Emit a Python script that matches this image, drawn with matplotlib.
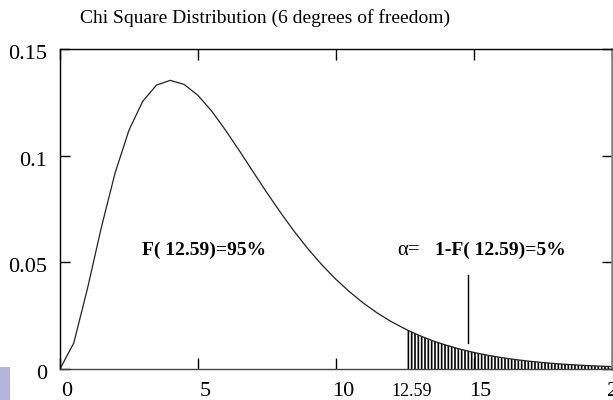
import numpy as np
import matplotlib
matplotlib.use("Agg")
import matplotlib.pyplot as plt
import matplotlib.transforms as mtransforms
from matplotlib.patches import Rectangle

# Data (chi-square density, 6 d.o.f.)
x_vals = [0, 0.5, 1, 1.5, 2, 2.5, 3, 3.5, 4, 4.5, 5, 5.5, 6, 6.5, 7, 7.5, 8, 8.5,
          9, 9.5, 10, 10.5, 11, 11.5, 12, 12.5, 12.59, 13, 13.5, 14, 14.5, 15, 15.5,
          16, 16.5, 17, 17.5, 18, 18.5, 19, 19.5, 20]
y_vals = [0.0, 0.0122, 0.0379, 0.0664, 0.0920, 0.1119, 0.1255, 0.1331, 0.1353,
          0.1334, 0.1283, 0.1209, 0.1120, 0.1024, 0.0925, 0.0827, 0.0733, 0.0644,
          0.0562, 0.0488, 0.0421, 0.0362, 0.0309, 0.0263, 0.0223, 0.0189, 0.0183,
          0.0159, 0.0133, 0.0112, 0.00933, 0.00778, 0.00647, 0.00537, 0.00445,
          0.00368, 0.00303, 0.00250, 0.00206, 0.00169, 0.00139, 0.00114]
critical = 12.59
x_ticks = [0, 5, 10, 15, 20]
x_tick_labels = ["0", "5", "10", "15", "20"]
y_ticks = [0, 0.05, 0.1, 0.15]
y_tick_labels = ["0", "0.05", "0.1", "0.15"]
title = "Chi Square Distribution (6 degrees of freedom)"

plt.rcParams['font.family'] = ['Liberation Serif', 'DejaVu Serif']
plt.rcParams['hatch.linewidth'] = 1.2
plt.rcParams['hatch.color'] = 'black'

fig = plt.figure(figsize=(6.13, 4.0), dpi=100)
ax = fig.add_axes([60/613, 31/400, 551.5/613, 320/400])

xv = np.array(x_vals)
yv = np.array(y_vals)
ax.plot(xv, yv, color='#222222', lw=0.9)

mask = xv >= critical
ax.fill_between(xv[mask], 0, yv[mask], facecolor='none', edgecolor='black',
                hatch='|||||', linewidth=0)

ax.set_xlim(0, 20)
ax.set_ylim(0, 0.15)
ax.set_xticks(x_ticks)
ax.set_xticklabels(x_tick_labels, fontsize=16)
ax.set_yticks(y_ticks)
ax.set_yticklabels(y_tick_labels, fontsize=16)
ax.tick_params(axis='x', direction='in', length=8, width=1, top=True, pad=9)
ax.tick_params(axis='y', direction='in', length=7.5, width=1, right=True, pad=9)
offx = mtransforms.ScaledTranslation(7/100, 0, fig.dpi_scale_trans)
for lbl in ax.get_xticklabels():
    lbl.set_transform(lbl.get_transform() + offx)
offy = mtransforms.ScaledTranslation(0, -3/100, fig.dpi_scale_trans)
for lbl in ax.get_yticklabels():
    lbl.set_transform(lbl.get_transform() + offy)

for side in ['left', 'bottom', 'top']:
    ax.spines[side].set_linewidth(1.0)
    ax.spines[side].set_color('black')
ax.spines['bottom'].set_color('#444444')
ax.spines['right'].set_linewidth(1.8)
ax.spines['right'].set_color('#808080')

trans = mtransforms.blended_transform_factory(ax.transData, ax.transAxes)
ax.text(critical + 0.18, -0.07, "12.59", transform=trans, ha='center', va='center', fontsize=13)

ax.text(2.97, 0.0555, "F( 12.59)=95%", fontsize=14, fontweight='bold', ha='left', va='center')
ax.text(12.23, 0.0555, "α=", fontsize=15, ha='left', va='center')
ax.text(13.6, 0.0555, "1-F( 12.59)=5%", fontsize=14, fontweight='bold', ha='left', va='center')
ax.plot([14.8, 14.8], [0.0122, 0.0441], color='black', lw=1.0)

fig.text(80/613, 1 - 18/400, title, fontsize=14, ha='left', va='center')

fig.patches.append(Rectangle((0, 0), 10/613, 33/400, transform=fig.transFigure,
                             facecolor='#b4b4dc', edgecolor='none'))

fig.savefig('out.png', dpi=100)
